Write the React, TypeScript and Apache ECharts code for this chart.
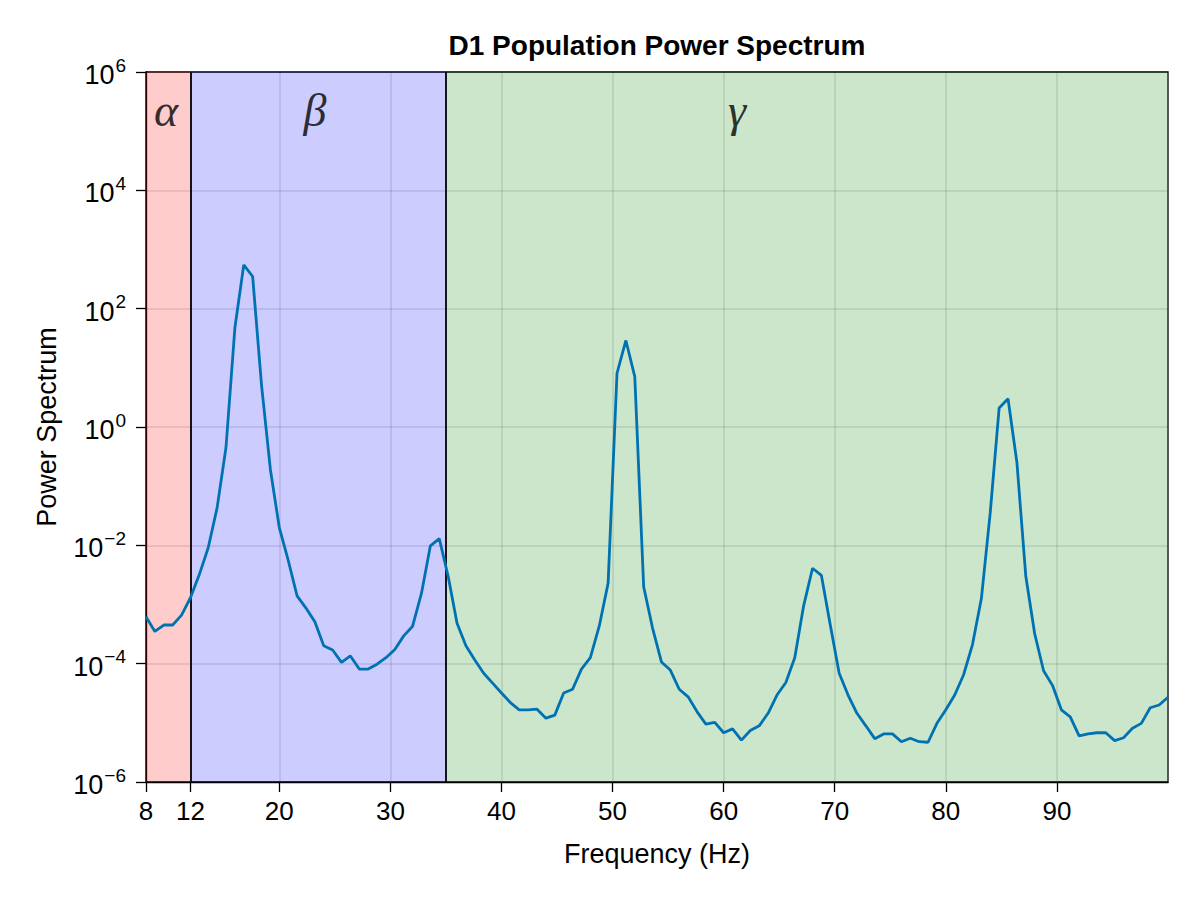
import React, { useEffect, useRef } from "react";
import * as echarts from "echarts";

// Frequency grid (Hz)
const freqs = [
  8.0, 8.8, 9.6, 10.4, 11.2, 12.0, 12.8, 13.6, 14.4, 15.2,
  16.0, 16.8, 17.6, 18.4, 19.2, 20.0, 20.8, 21.6, 22.4, 23.2,
  24.0, 24.8, 25.6, 26.4, 27.2, 28.0, 28.8, 29.6, 30.4, 31.2,
  32.0, 32.8, 33.6, 34.4, 35.2, 36.0, 36.8, 37.6, 38.4, 39.2,
  40.0, 40.8, 41.6, 42.4, 43.2, 44.0, 44.8, 45.6, 46.4, 47.2,
  48.0, 48.8, 49.6, 50.4, 51.2, 52.0, 52.8, 53.6, 54.4, 55.2,
  56.0, 56.8, 57.6, 58.4, 59.2, 60.0, 60.8, 61.6, 62.4, 63.2,
  64.0, 64.8, 65.6, 66.4, 67.2, 68.0, 68.8, 69.6, 70.4, 71.2,
  72.0, 72.8, 73.6, 74.4, 75.2, 76.0, 76.8, 77.6, 78.4, 79.2,
  80.0, 80.8, 81.6, 82.4, 83.2, 84.0, 84.8, 85.6, 86.4, 87.2,
  88.0, 88.8, 89.6, 90.4, 91.2, 92.0, 92.8, 93.6, 94.4, 95.2,
  96.0, 96.8, 97.6, 98.4, 99.2, 100.0,
];

// Power spectrum values
const power = [
  6.2e-4, 3.5e-4, 4.5e-4, 4.5e-4, 6.6e-4, 1.3e-3, 3.2e-3, 9.1e-3, 4.3e-2, 0.45,
  47, 550, 350, 5.1, 0.19, 2.0e-2, 5.6e-3, 1.4e-3, 8.7e-4, 5.1e-4,
  2.0e-4, 1.7e-4, 1.05e-4, 1.35e-4, 8.1e-5, 8.1e-5, 9.8e-5, 1.26e-4, 1.74e-4, 2.95e-4,
  4.3e-4, 1.55e-3, 9.8e-3, 1.3e-2, 3.0e-3, 4.8e-4, 2.0e-4, 1.15e-4, 6.9e-5, 4.7e-5,
  3.2e-5, 2.2e-5, 1.66e-5, 1.66e-5, 1.7e-5, 1.2e-5, 1.35e-5, 3.2e-5, 3.7e-5, 8.1e-5,
  1.26e-4, 4.3e-4, 2.3e-3, 8.1, 29, 7.1, 2.0e-3, 4.0e-4, 1.07e-4, 7.8e-5,
  3.7e-5, 2.75e-5, 1.55e-5, 9.5e-6, 1.02e-5, 6.8e-6, 7.9e-6, 5.1e-6, 7.4e-6, 8.9e-6,
  1.45e-5, 2.95e-5, 4.8e-5, 1.26e-4, 9.5e-4, 4.1e-3, 3.1e-3, 4.5e-4, 6.9e-5, 2.95e-5,
  1.45e-5, 8.9e-6, 5.4e-6, 6.5e-6, 6.5e-6, 4.8e-6, 5.5e-6, 4.8e-6, 4.7e-6, 9.8e-6,
  1.66e-5, 2.95e-5, 6.5e-5, 2.1e-4, 1.26e-3, 3.6e-2, 2.1, 3.0, 0.25, 3.0e-3,
  3.2e-4, 7.6e-5, 4.3e-5, 1.66e-5, 1.26e-5, 6.0e-6, 6.5e-6, 6.8e-6, 6.8e-6, 5.0e-6,
  5.6e-6, 8.1e-6, 9.8e-6, 1.8e-5, 2.0e-5, 2.7e-5,
];

const xTicks = [8, 12, 20, 30, 40, 50, 60, 70, 80, 90];
const yTicks = [1e-6, 1e-4, 1e-2, 1, 1e2, 1e4, 1e6];

// Frequency bands
const bandNames = ["α", "β", "γ"];
const bandStart = [8, 12, 35];
const bandEnd = [12, 35, 100];
const bandBoundaries = [12, 35];
// anchor of band symbols (x in Hz, y in power units)
const bandLabelX = [9.8, 23.2, 61.2];
const bandLabelY = 2.2e5;

const bandColors = ["rgba(255,0,0,0.2)", "rgba(0,0,255,0.2)", "rgba(0,128,0,0.2)"];

const FONT = "Liberation Sans, Arial, Helvetica, sans-serif";

const supLabel = (v: number) => {
  const e = Math.round(Math.log10(v));
  const es = e < 0 ? "\u2212" + -e : String(e);
  return `{b|10}{e|${es}}`;
};

export default function App() {
  const ref = useRef<HTMLDivElement>(null);
  useEffect(() => {
    if (!ref.current) return;
    const chart = echarts.init(ref.current, undefined, { renderer: "svg" });
    const lineData = freqs.map((f, i) => [f, power[i]]);
    const option: any = {
      animation: false,
      backgroundColor: "#ffffff",
      textStyle: { fontFamily: FONT },
      grid: {
        left: 146,
        right: 32,
        top: 72,
        bottom: 118,
        show: true,
        borderColor: "#000",
        borderWidth: 1.3,
        backgroundColor: "transparent",
      },
      graphic: [
        {
          type: "text",
          x: 657,
          y: 59,
          style: {
            text: "D1 Population Power Spectrum",
            fontFamily: FONT,
            fontWeight: "bold",
            fontSize: 28,
            fill: "#000",
            textAlign: "center",
            textVerticalAlign: "bottom",
          },
        },
      ],
      xAxis: {
        type: "value",
        min: 8,
        max: 100,
        name: "Frequency (Hz)",
        nameLocation: "middle",
        nameGap: 58,
        nameTextStyle: { fontSize: 27, color: "#000", fontFamily: FONT },
        axisLine: { show: true, lineStyle: { color: "#000", width: 1.3 } },
        axisTick: {
          show: true,
          inside: false,
          length: 10,
          customValues: xTicks,
          lineStyle: { color: "#000", width: 1.3 },
        },
        axisLabel: {
          customValues: xTicks,
          fontSize: 26,
          color: "#000",
          margin: 16,
          fontFamily: FONT,
        },
        splitLine: { show: true, lineStyle: { color: "rgba(0,0,0,0.12)", width: 1.5 } },
      },
      yAxis: {
        type: "log",
        logBase: 10,
        min: 1e-6,
        max: 1e6,
        name: "Power Spectrum",
        nameLocation: "middle",
        nameGap: 86,
        nameTextStyle: { fontSize: 27, color: "#000", fontFamily: FONT },
        axisLine: { show: true, lineStyle: { color: "#000", width: 1.3 } },
        axisTick: {
          show: true,
          inside: false,
          length: 10,
          customValues: yTicks,
          lineStyle: { color: "#000", width: 1.3 },
        },
        minorTick: { show: false },
        axisLabel: {
          customValues: yTicks,
          color: "#000",
          margin: 20,
          fontFamily: FONT,
          formatter: supLabel,
          rich: {
            b: { fontSize: 27, fontFamily: FONT, color: "#000", padding: [6, 0, 0, 0] },
            e: { fontSize: 19, fontFamily: FONT, color: "#000", padding: [0, 0, 14, 1] },
          },
        },
        splitLine: { show: true, lineStyle: { color: "rgba(0,0,0,0.12)", width: 1.5 } },
      },
      series: [
        {
          type: "line",
          data: [],
          silent: true,
          z: 1,
          markArea: {
            silent: true,
            data: bandNames.map((n, i) => [
              { xAxis: bandStart[i], itemStyle: { color: bandColors[i] } },
              { xAxis: bandEnd[i] },
            ]),
          },
          markLine: {
            silent: true,
            symbol: "none",
            label: { show: false },
            lineStyle: { color: "#000", width: 1.8, type: "solid" },
            data: bandBoundaries.map((b) => ({ xAxis: b })),
          },
        },
        {
          type: "line",
          data: lineData,
          z: 5,
          showSymbol: false,
          symbol: "none",
          lineStyle: { color: "#0072b2", width: 2.8 },
          clip: true,
        },
        {
          type: "scatter",
          z: 6,
          symbolSize: 0,
          data: bandNames.map((n, i) => ({ name: n, value: [bandLabelX[i], bandLabelY] })),
          label: {
            show: true,
            position: "inside",
            formatter: (p: any) => p.name,
            fontFamily: "Liberation Serif, DejaVu Serif, serif",
            fontStyle: "italic",
            fontSize: 46,
            color: "#000",
          },
        },
      ],
    };
    chart.setOption(option);
    return () => chart.dispose();
  }, []);
  return (
    <div
      ref={ref}
      style={{ position: "fixed", left: 0, top: 0, width: 1200, height: 900 }}
    />
  );
}
